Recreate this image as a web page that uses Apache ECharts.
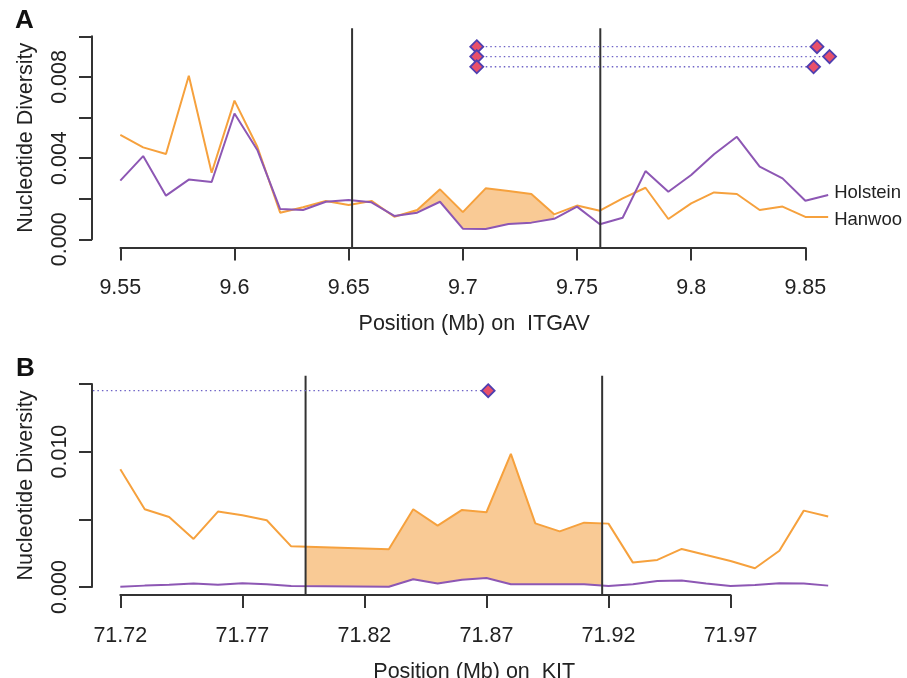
<!DOCTYPE html>
<html><head><meta charset="utf-8">
<script src="https://cdn.jsdelivr.net/npm/echarts@6/dist/echarts.min.js"></script>
<style>html,body{margin:0;padding:0;background:#fff}#c{width:907px;height:678px}</style>
</head><body><div id="c"></div>
<script>
// ---------- Panel A (ITGAV) ----------
const posA = [9.55,9.56,9.57,9.58,9.59,9.60,9.61,9.62,9.63,9.64,9.65,9.66,9.67,9.68,9.69,9.70,9.71,9.72,9.73,9.74,9.75,9.76,9.77,9.78,9.79,9.80,9.81,9.82,9.83,9.84,9.85,9.86];
const hanwooA = [0.00514,0.00453,0.00420,0.00806,0.00328,0.00683,0.00456,0.00131,0.00158,0.00189,0.00169,0.00189,0.00111,0.00144,0.00246,0.00134,0.00251,0.00238,0.00223,0.00123,0.00166,0.00141,0.00202,0.00254,0.00100,0.00177,0.00231,0.00223,0.00144,0.00161,0.00110,0.00110];
const holsteinA = [0.00289,0.00410,0.00215,0.00294,0.00282,0.00620,0.00440,0.00149,0.00144,0.00185,0.00194,0.00182,0.00115,0.00131,0.00185,0.00052,0.00051,0.00075,0.00082,0.00101,0.00161,0.00074,0.00106,0.00336,0.00234,0.00317,0.00419,0.00505,0.00358,0.00300,0.00190,0.00218];
const regionA = [9.6515, 9.7602];
const fillA = [9.66, 9.74];
const sweepLeftXA = [9.7061, 9.7061, 9.7061];
const sweepRightXA = [9.8551, 9.8606, 9.8536];
const sweepYA = [0.00949, 0.00900, 0.00850];
const ylimA = [0, 0.010];
const xTicksA = [9.55, 9.60, 9.65, 9.70, 9.75, 9.80, 9.85];
const xTickLabelsA = ['9.55','9.6','9.65','9.7','9.75','9.8','9.85'];
const yTicksA = [0, 0.002, 0.004, 0.006, 0.008, 0.010];
const yTickLabelsA = ['0.000','','0.004','','0.008',''];

// ---------- Panel B (KIT) ----------
const posB = [71.72,71.73,71.74,71.75,71.76,71.77,71.78,71.79,71.83,71.84,71.85,71.86,71.87,71.88,71.89,71.90,71.91,71.92,71.93,71.94,71.95,71.96,71.97,71.98,71.99,72.00,72.01];
const hanwooB = [0.00869,0.00574,0.00517,0.00355,0.00557,0.00530,0.00493,0.00300,0.00278,0.00574,0.00453,0.00569,0.00552,0.00983,0.00470,0.00411,0.00475,0.00468,0.00180,0.00200,0.00281,0.00236,0.00192,0.00138,0.00268,0.00564,0.00520];
const holsteinB = [0.00002,0.00010,0.00017,0.00025,0.00017,0.00027,0.00020,0.00007,0.00002,0.00057,0.00025,0.00054,0.00066,0.00020,0.00020,0.00020,0.00020,0.00007,0.00020,0.00044,0.00047,0.00025,0.00007,0.00015,0.00027,0.00025,0.00010];
const regionB = [71.7959, 71.9174];
const fillB = [71.7959, 71.9174];
const sweepLeftXB = [71.60];
const sweepRightXB = [71.8707];
const sweepYB = [0.0145];
const ylimB = [0, 0.015];
const xTicksB = [71.72, 71.77, 71.82, 71.87, 71.92, 71.97];
const xTickLabelsB = ['71.72','71.77','71.82','71.87','71.92','71.97'];
const yTicksB = [0, 0.005, 0.010, 0.015];
const yTickLabelsB = ['0.000','','0.010',''];

// ---------- styling ----------
const ORANGE = '#F6A13D', FILL = '#F9CA95', PURPLE = '#8D57B4', DOT = '#6E63C6';
const DFILL = '#E8506A', DBORDER = '#4E3FB0', INK = '#222';
const FONT = 'Liberation Sans';
const FS = 21.5;

const plotA = {left: 92, top: 28.2, width: 764.5, height: 219.2};
const plotB = {left: 92, top: 375.8, width: 764.5, height: 219.3};

function ext(lo, hi){ const d = (hi - lo) * 0.04; return [lo - d, hi + d]; }
const xRangeA = ext(Math.min(...posA), Math.max(...posA));
const xRangeB = ext(Math.min(...posB), Math.max(...posB));
const yRangeA = ext(ylimA[0], ylimA[1]);
const yRangeB = ext(ylimB[0], ylimB[1]);

function xPix(v, r, p){ return p.left + (v - r[0]) / (r[1] - r[0]) * p.width; }
function yPix(v, r, p){ return p.top + (r[1] - v) / (r[1] - r[0]) * p.height; }

function tickGrid(p, xr, yr, xt, yt){
  const l = xPix(xt[0], xr, p), rgt = xPix(xt[xt.length-1], xr, p);
  const t = yPix(yt[yt.length-1], yr, p), b = yPix(yt[0], yr, p);
  return {grid:{left:l, top:t, width:rgt-l, height:b-t},
          xOff:(p.top + p.height) - b, yOff:l - p.left};
}
const tgA = tickGrid(plotA, xRangeA, yRangeA, xTicksA, yTicksA);
const tgB = tickGrid(plotB, xRangeB, yRangeB, xTicksB, yTicksB);

function lookup(ticks, labels){
  return function(v){
    for (let i = 0; i < ticks.length; i++) if (Math.abs(ticks[i]-v) < 1e-7) return labels[i];
    return '';
  };
}
function interp(xs, ys, x){
  for (let i = 0; i < xs.length - 1; i++){
    if (x >= xs[i] - 1e-9 && x <= xs[i+1] + 1e-9){
      const t = (x - xs[i]) / (xs[i+1] - xs[i]);
      return ys[i] + t * (ys[i+1] - ys[i]);
    }
  }
  return ys[ys.length-1];
}
function fillPoly(xs, top, bot, range){
  const up = [[range[0], interp(xs, top, range[0])]];
  const lo = [[range[0], interp(xs, bot, range[0])]];
  xs.forEach((x, i) => { if (x > range[0] + 1e-9 && x < range[1] - 1e-9){ up.push([x, top[i]]); lo.push([x, bot[i]]); } });
  up.push([range[1], interp(xs, top, range[1])]);
  lo.push([range[1], interp(xs, bot, range[1])]);
  return up.concat(lo.reverse());
}

const hiddenX = (gi, r, name) => ({
  type:'value', gridIndex:gi, min:r[0], max:r[1],
  axisLine:{show:false, onZero:false}, axisTick:{show:false}, axisLabel:{show:false}, splitLine:{show:false},
  name:name, nameLocation:'middle', nameGap:66,
  nameTextStyle:{fontFamily:FONT, fontSize:FS, color:INK}
});
const hiddenY = (gi, r, name) => ({
  type:'value', gridIndex:gi, min:r[0], max:r[1],
  axisLine:{show:false, onZero:false}, axisTick:{show:false}, axisLabel:{show:false}, splitLine:{show:false},
  name:name, nameLocation:'middle', nameGap:55, nameRotate:90,
  nameTextStyle:{fontFamily:FONT, fontSize:FS, color:INK}
});
const axLine = {show:true, onZero:false, lineStyle:{color:'#333', width:2}};
const axTick = (vals) => ({show:true, length:13, customValues:vals, lineStyle:{color:'#333', width:2}});
const dispX = (gi, ticks, labels, off) => ({
  type:'value', gridIndex:gi, position:'bottom', offset:off, min:ticks[0], max:ticks[ticks.length-1],
  axisLine:axLine, axisTick:axTick(ticks), splitLine:{show:false},
  axisLabel:{customValues:ticks, formatter:lookup(ticks, labels), margin:30, fontFamily:FONT, fontSize:FS, color:INK, hideOverlap:false, showMinLabel:true, showMaxLabel:true}
});
const dispY = (gi, ticks, labels, off) => ({
  type:'value', gridIndex:gi, position:'left', offset:off, min:ticks[0], max:ticks[ticks.length-1],
  axisLine:axLine, axisTick:axTick(ticks), splitLine:{show:false},
  axisLabel:{customValues:ticks.filter((t,i)=>labels[i] !== ''), formatter:lookup(ticks, labels), rotate:90, margin:21, fontFamily:FONT, fontSize:FS, color:INK, hideOverlap:false, showMinLabel:true, showMaxLabel:true}
});

function panelSeries(xi, pos, han, hol, region, fillR, sLX, sRX, sY, yr, labels){
  const s = [];
  const poly = fillPoly(pos, han, hol, fillR);
  s.push({type:'custom', xAxisIndex:xi, yAxisIndex:xi, silent:true, z:1, data:[[pos[0], 0]],
    renderItem:function(params, api){
      return {type:'polygon', shape:{points:poly.map(p => api.coord(p))}, style:{fill:FILL, stroke:null}};
    }});
  s.push({type:'line', name:'Hanwoo', xAxisIndex:xi, yAxisIndex:xi, z:2, symbol:'none', silent:true,
    data:pos.map((x,i)=>[x, han[i]]), lineStyle:{color:ORANGE, width:2},
    endLabel: labels ? {show:true, formatter:'Hanwoo', distance:6, offset:[0,3], fontFamily:FONT, fontSize:18.5, color:INK} : {show:false}});
  s.push({type:'line', name:'Holstein', xAxisIndex:xi, yAxisIndex:xi, z:3, symbol:'none', silent:true,
    data:pos.map((x,i)=>[x, hol[i]]), lineStyle:{color:PURPLE, width:2},
    endLabel: labels ? {show:true, formatter:'Holstein', distance:6, offset:[0,-2], fontFamily:FONT, fontSize:18.5, color:INK} : {show:false}});
  region.forEach(v => {
    s.push({type:'line', xAxisIndex:xi, yAxisIndex:xi, z:4, symbol:'none', silent:true,
      data:[[v, yr[0]],[v, yr[1]]], lineStyle:{color:'#333', width:2}});
  });
  sY.forEach((y,i) => {
    s.push({type:'line', xAxisIndex:xi, yAxisIndex:xi, z:4, symbol:'none', silent:true,
      data:[[sLX[i], y],[sRX[i], y]], lineStyle:{color:DOT, width:1.3, type:[1.5,3]}});
  });
  const pts = [];
  sY.forEach((y,i) => { pts.push([sLX[i], y]); pts.push([sRX[i], y]); });
  s.push({type:'scatter', xAxisIndex:xi, yAxisIndex:xi, z:5, silent:true, symbol:'diamond', symbolSize:13,
    data:pts, itemStyle:{color:DFILL, borderColor:DBORDER, borderWidth:1.8, opacity:1}});
  return s;
}

const gridOpt = (g) => Object.assign({}, g, {containLabel:false, outerBoundsMode:'none'});

const chart = echarts.init(document.getElementById('c'), null, {renderer:'canvas'});
chart.setOption({
  animation:false,
  backgroundColor:'#fff',
  grid:[ gridOpt(plotA), gridOpt(tgA.grid), gridOpt(plotB), gridOpt(tgB.grid) ],
  xAxis:[
    hiddenX(0, xRangeA, 'Position (Mb) on  ITGAV'),
    dispX(1, xTicksA, xTickLabelsA, tgA.xOff),
    hiddenX(2, xRangeB, 'Position (Mb) on  KIT'),
    dispX(3, xTicksB, xTickLabelsB, tgB.xOff)
  ],
  yAxis:[
    hiddenY(0, yRangeA, 'Nucleotide Diversity'),
    dispY(1, yTicksA, yTickLabelsA, tgA.yOff),
    hiddenY(2, yRangeB, 'Nucleotide Diversity'),
    dispY(3, yTicksB, yTickLabelsB, tgB.yOff)
  ],
  graphic:[
    {type:'text', left:15, top:8, style:{text:'A', font:'bold 26px "Liberation Sans"', fill:'#111'}},
    {type:'text', left:16, top:356, style:{text:'B', font:'bold 26px "Liberation Sans"', fill:'#111'}}
  ],
  series: panelSeries(0, posA, hanwooA, holsteinA, regionA, fillA, sweepLeftXA, sweepRightXA, sweepYA, yRangeA, true)
    .concat(panelSeries(2, posB, hanwooB, holsteinB, regionB, fillB, sweepLeftXB, sweepRightXB, sweepYB, yRangeB, false))
});
</script>
</body></html>
